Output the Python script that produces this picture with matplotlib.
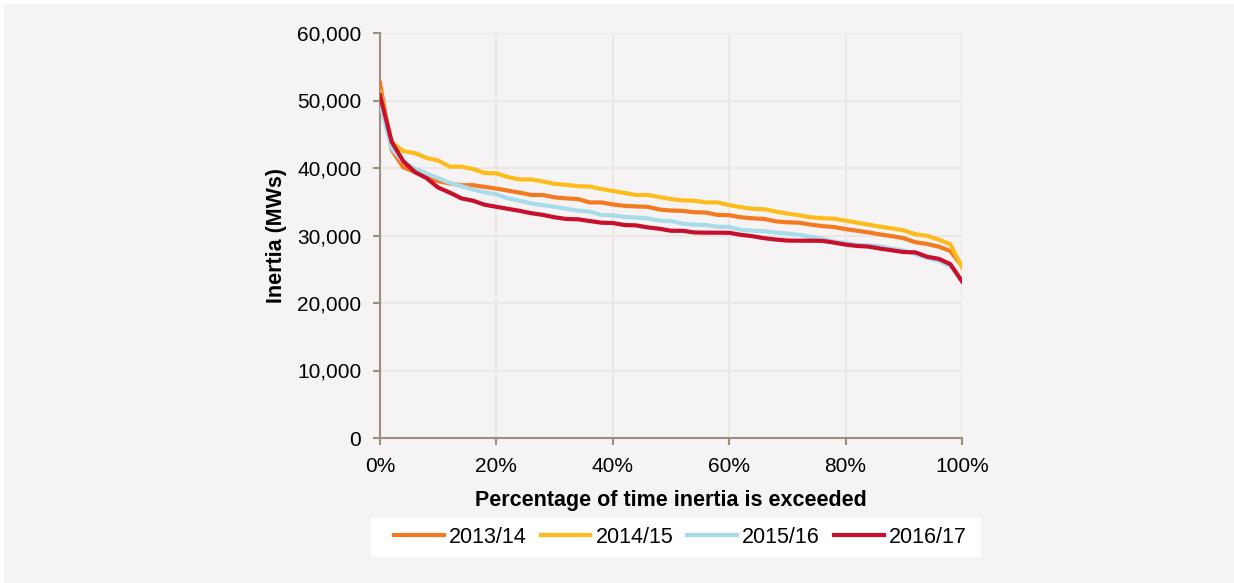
import matplotlib
matplotlib.use("Agg")

import numpy as np
from matplotlib import pyplot as plt
from matplotlib.patches import Rectangle
from matplotlib.ticker import FuncFormatter

plt.rcParams['font.family'] = ['Liberation Sans', 'DejaVu Sans']

# percentage of time the inertia level is exceeded
pct = list(range(0, 101, 2))

inertia_1314 = [52600, 42700, 40100, 39400, 38700, 38050, 37700, 37450, 37450, 37200,
                36950, 36650, 36350, 36000, 36000, 35650, 35500, 35400, 34900, 34900,
                34600, 34400, 34300, 34250, 33850, 33700, 33650, 33450, 33400, 33050,
                33000, 32700, 32550, 32450, 32100, 31950, 31900, 31600, 31400, 31250,
                30950, 30700, 30450, 30150, 29900, 29600, 29000, 28750, 28350, 27700,
                25450]
inertia_1415 = [51300, 43800, 42500, 42200, 41500, 41100, 40200, 40200, 39850, 39250,
                39200, 38650, 38300, 38300, 38000, 37650, 37500, 37300, 37250, 36900,
                36600, 36300, 36000, 36000, 35700, 35400, 35200, 35150, 34900, 34900,
                34500, 34200, 33950, 33900, 33550, 33250, 33000, 32700, 32550, 32500,
                32200, 31900, 31600, 31300, 31050, 30750, 30200, 29950, 29400, 28700,
                25300]
inertia_1516 = [49600, 42900, 40900, 39900, 39200, 38500, 37800, 37300, 36800, 36400,
                36100, 35500, 35150, 34750, 34500, 34250, 33950, 33700, 33550, 33050,
                33000, 32750, 32650, 32550, 32200, 32150, 31750, 31600, 31550, 31300,
                31250, 30850, 30700, 30650, 30450, 30300, 30100, 29800, 29550, 29100,
                28900, 28600, 28550, 28400, 28050, 27800, 27250, 26650, 26250, 25500,
                23400]
inertia_1617 = [50800, 43900, 41000, 39400, 38500, 37100, 36350, 35500, 35150, 34550,
                34250, 33950, 33650, 33300, 33050, 32700, 32450, 32400, 32150, 31900,
                31850, 31550, 31500, 31200, 31000, 30700, 30700, 30450, 30420, 30420,
                30400, 30100, 29900, 29600, 29400, 29250, 29230, 29230, 29200, 28950,
                28650, 28450, 28350, 28050, 27800, 27550, 27500, 26850, 26550, 25750,
                23200]

years = ['2013/14', '2014/15', '2015/16', '2016/17']
colours = ['#f47a22', '#fdbb1c', '#a9dcea', '#c8102e']
W, H = 1234, 583
bg = '#f5f3f4'


def main():
    fig = plt.figure(figsize=(W / 100, H / 100), dpi=100, facecolor='white')
    # grey panel behind everything (thin white strip on top and left)
    fig.patches.append(Rectangle((4 / W, 0), 1 - 4 / W, 1 - 4 / H, transform=fig.transFigure,
                                 facecolor=bg, edgecolor='none', zorder=-5))
    # white box behind the legend
    fig.patches.append(Rectangle((371 / W, 1 - 557 / H), 610 / W, 39 / H,
                                 transform=fig.transFigure, facecolor='white',
                                 edgecolor='none', zorder=-4))

    ax = fig.add_axes([380 / W, 1 - 438 / H, 582 / W, 405 / H])
    ax.set_facecolor('none')

    series = [inertia_1314, inertia_1415, inertia_1516, inertia_1617]
    for vals, lab, c in zip(series, years, colours):
        ax.plot(pct, vals, color=c, lw=3, label=lab, solid_joinstyle='round', zorder=3)

    ax.set_xlim(0, 100)
    ax.set_ylim(0, 60000)
    ax.set_xticks(range(0, 101, 20))
    ax.set_yticks(range(0, 60001, 10000))
    ax.xaxis.set_major_formatter(FuncFormatter(lambda v, p: '%d%%' % v))
    ax.yaxis.set_major_formatter(FuncFormatter(lambda v, p: '{:,.0f}'.format(v)))

    ax.grid(True, color='#ebe7e2', lw=1.5, zorder=0)
    ax.set_axisbelow(True)
    for s in ['top', 'right']:
        ax.spines[s].set_visible(False)
    for s in ['left', 'bottom']:
        ax.spines[s].set_color('#9c8f80')
        ax.spines[s].set_linewidth(1.5)
    ax.tick_params(direction='out', length=5, width=1.5, color='#9c8f80',
                   labelsize=15, labelcolor='black', pad=8.5)

    ax.set_xlabel('Percentage of time inertia is exceeded', fontsize=15.5, fontweight='bold',
                  labelpad=10)
    ax.set_ylabel('Inertia (MWs)', fontsize=15.5, fontweight='bold', labelpad=7)

    fig.legend(loc='center', bbox_to_anchor=(680.5 / W, 1 - 537.5 / H), ncol=4,
               fontsize=15.5, frameon=False, handlelength=2.3, borderpad=0,
               handletextpad=0.25, columnspacing=0.65)

    fig.savefig('out.png', dpi=100, facecolor=fig.get_facecolor())


if __name__ == '__main__':
    main()
